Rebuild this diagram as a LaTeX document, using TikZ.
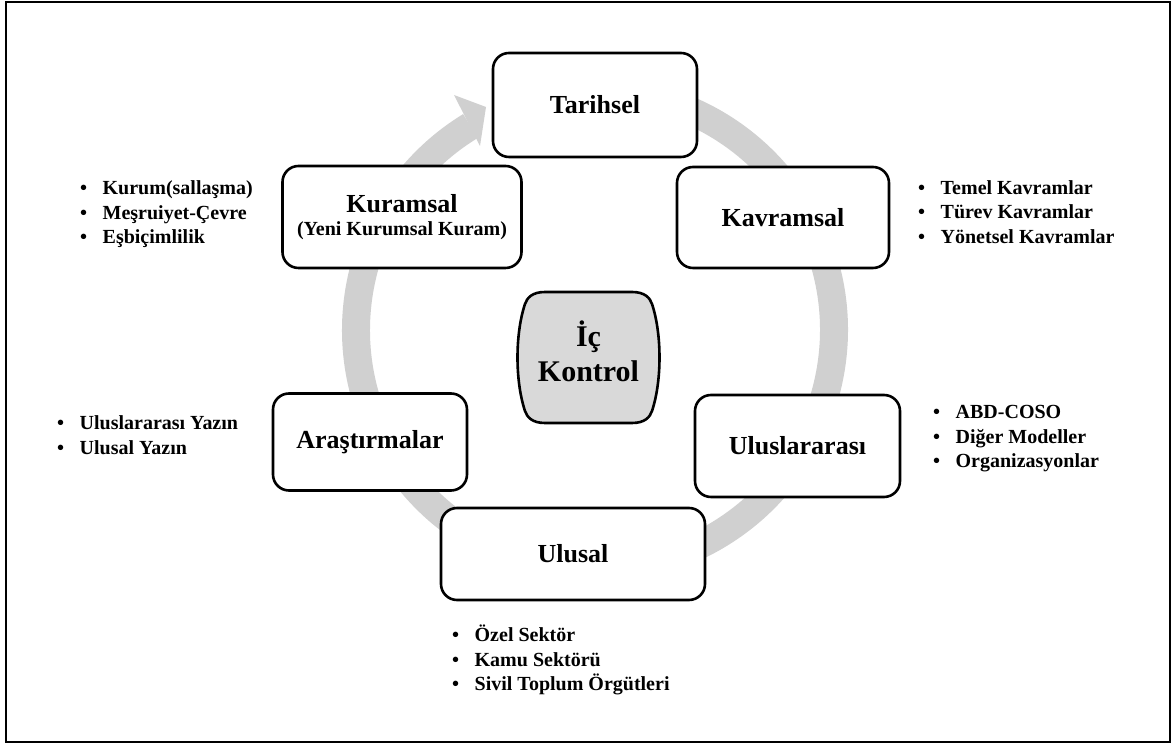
\documentclass[tikz,border=0pt]{standalone}
\usepackage{fontspec}
\setmainfont{Liberation Serif}
\definecolor{ringgray}{RGB}{208,208,208}
\definecolor{corefill}{RGB}{217,217,217}
\begin{document}
\begin{tikzpicture}[x=1pt,y=1pt,
  frame/.style={draw=black, line width=2pt},
  box/.style={draw=black, line width=2.6pt, rounded corners=16pt, fill=white, inner sep=0pt,
    font=\fontsize{26}{30}\selectfont\bfseries, align=center},
  core/.style={draw=black, line width=2.6pt, fill=corefill},
  coretext/.style={font=\fontsize{30}{35}\selectfont\bfseries, align=center, inner sep=0pt},
  item/.style={anchor=base west, inner sep=0pt, font=\fontsize{20}{24}\selectfont\bfseries},
  ring/.style={draw=ringgray, line width=28pt},
  ringhead/.style={fill=ringgray}]
\useasboundingbox (0,0) rectangle (1171,744);
\draw[frame] (6,2) rectangle (1170,742);

% circular arrow behind the boxes
\coordinate (ringc) at (595,414);
\draw[ring] (ringc) ++(121.4:239pt) arc[start angle=121.4, end angle=455, radius=239pt];
\fill[ringhead] (454,649) -- (486,637) -- (480,598) -- cycle;

% boxes
\node[box, minimum width=204pt, minimum height=104pt] (tar) at (595,639) {Tarihsel};
\node[box, minimum width=239pt, minimum height=102pt] (kur) at (402,527)
  {Kuramsal\\[-7pt]{\fontsize{20}{22}\selectfont(Yeni Kurumsal Kuram)}};
\node[box, minimum width=212pt, minimum height=101pt] (kav) at (783,526.5) {Kavramsal};
\node[box, minimum width=194pt, minimum height=97pt] (ara) at (370,302) {Araştırmalar};
\node[box, minimum width=205pt, minimum height=102pt] (uli) at (797.5,298) {Uluslararası};
\node[box, minimum width=264pt, minimum height=92pt] (ulu) at (573,190) {Ulusal};

% centre
\draw[core] (545,452) -- (632,452)
  .. controls (645,452) and (650,446) .. (652,440)
  .. controls (662,410) and (662,363) .. (652,333)
  .. controls (650,327) and (645,321) .. (632,321)
  -- (545,321)
  .. controls (532,321) and (527,327) .. (525,333)
  .. controls (515,363) and (515,410) .. (525,440)
  .. controls (527,446) and (532,452) .. (545,452) -- cycle;
\node[coretext] (ic) at (588.5,393) {İç\\Kontrol};

% lists
\node[item] (kur1) at (80,549)   {\makebox[22.5pt][l]{•}Kurum(sallaşma)};
\node[item] (kur2) at (80,524.5) {\makebox[22.5pt][l]{•}Meşruiyet-Çevre};
\node[item] (kur3) at (80,500)   {\makebox[22.5pt][l]{•}Eşbiçimlilik};

\node[item] (kav1) at (918,549.7) {\makebox[22.5pt][l]{•}Temel Kavramlar};
\node[item] (kav2) at (918,525.2) {\makebox[22.5pt][l]{•}Türev Kavramlar};
\node[item] (kav3) at (918,500.7) {\makebox[22.5pt][l]{•}Yönetsel Kavramlar};

\node[item] (ara1) at (57,314)   {\makebox[22.5pt][l]{•}Uluslararası Yazın};
\node[item] (ara2) at (57,289.5) {\makebox[22.5pt][l]{•}Ulusal Yazın};

\node[item] (uli1) at (933,325)   {\makebox[22.5pt][l]{•}ABD-COSO};
\node[item] (uli2) at (933,300.5) {\makebox[22.5pt][l]{•}Diğer Modeller};
\node[item] (uli3) at (933,276)   {\makebox[22.5pt][l]{•}Organizasyonlar};

\node[item] (ulu1) at (452,102)  {\makebox[22.5pt][l]{•}Özel Sektör};
\node[item] (ulu2) at (452,77.5) {\makebox[22.5pt][l]{•}Kamu Sektörü};
\node[item] (ulu3) at (452,53)   {\makebox[22.5pt][l]{•}Sivil Toplum Örgütleri};
\end{tikzpicture}
\end{document}
